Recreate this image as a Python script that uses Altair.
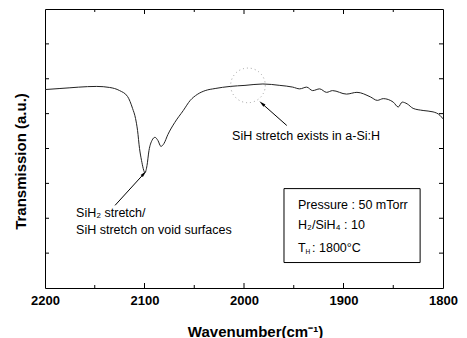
import altair as alt
import pandas as pd

# ---- data ----
wavenumber = [2200, 2185, 2148, 2135, 2125, 2117, 2112, 2109, 2107, 2105, 2103, 2099.5,
              2097.5, 2095.5, 2092.5, 2089.5, 2086.5, 2083.5, 2080.5, 2076.5, 2069.5,
              2061, 2054, 2047, 2039, 2029, 2014, 1999, 1981, 1964, 1951, 1944, 1937,
              1931, 1924, 1917, 1911, 1897, 1886.5, 1873, 1866, 1860, 1850, 1845, 1841,
              1836, 1830, 1820, 1810, 1803, 1800]
transmission = [5.69, 5.72, 5.78, 5.75, 5.66, 5.49, 5.15, 4.86, 4.52, 4.00, 3.66, 3.31,
                3.51, 3.94, 4.23, 4.32, 4.23, 4.06, 4.14, 4.40, 4.75,
                5.09, 5.38, 5.55, 5.66, 5.72, 5.78, 5.81, 5.85, 5.81, 5.76, 5.71, 5.76,
                5.66, 5.71, 5.61, 5.66, 5.56, 5.61, 5.48, 5.38, 5.43, 5.33, 5.19, 5.33,
                5.28, 5.15, 5.09, 5.05, 4.95, 4.85]

x_labels = [2200, 2100, 2000, 1900, 1800]
x_major = [2100, 2000, 1900]
x_minor = [2150, 2050, 1950, 1850]
y_ticks = [1, 2, 3, 4, 5, 6, 7]

# annotation anchors (data coordinates)
circle_w, circle_v = [1996], [5.81]
arrow_tail_w = [1957, 2129.6]
arrow_tail_v = [4.66, 2.37]
arrow_head_w = [1982, 2100.5]
arrow_head_v = [5.29, 3.28]
arrow_angle = [311, 42]

label_texts = ["SiH stretch exists in a-Si:H", "SiH\u2082 stretch/", "SiH stretch on void surfaces"]
label_w = [2012, 2168.8, 2168.8]
label_v = [4.37, 2.16, 1.65]

box_w = [1959.8]
box_w2 = [1823]
box_v = [2.85]
box_v2 = [0.73]
box_texts = ["Pressure : 50 mTorr", "H\u2082/SiH\u2084 : 10"]
box_text_w = [1945.7, 1945.7]
box_text_v = [2.39, 1.82]
t_line_w = [1945.7]
t_line_v = [1.16]

W, H = 398, 279
FONT = "Liberation Sans"
FS = 12.5

xs = alt.Scale(domain=[1800, 2200], reverse=True, nice=False, zero=False)
ys = alt.Scale(domain=[0, 8], nice=False, zero=False)

df = pd.DataFrame({"w": wavenumber, "t": transmission})

line = alt.Chart(df).mark_line(color="#222222", strokeWidth=1, interpolate="monotone").encode(
    x=alt.X("w:Q", scale=xs,
            axis=alt.Axis(values=x_labels, format="d", ticks=False, domain=False, grid=False,
                          labelFont=FONT, labelFontWeight="bold", labelFontSize=13,
                          labelColor="black", labelPadding=6, labelFlush=False,
                          title="Wavenumber(cm\u207B\u00B9)", titleFont=FONT, titleFontSize=15,
                          titleFontWeight="bold", titleColor="black", titlePadding=17,
                          titleX=210, titleAlign="center")),
    y=alt.Y("t:Q", scale=ys,
            axis=alt.Axis(labels=False, ticks=False, domain=False, grid=False,
                          title="Transmission (a.u.)", titleFont=FONT, titleFontSize=15,
                          titleFontWeight="bold", titleColor="black", titlePadding=17,
                          titleY=152)),
)

major_df = pd.DataFrame({"w": x_major})
minor_df = pd.DataFrame({"w": x_minor})
yt_df = pd.DataFrame({"v": y_ticks})

def xtick(dfx, length):
    bot = alt.Chart(dfx).mark_rule(color="black", strokeWidth=1).encode(
        x=alt.X("w:Q", scale=xs), y=alt.value(H), y2=alt.value(H - length))
    top = alt.Chart(dfx).mark_rule(color="black", strokeWidth=1).encode(
        x=alt.X("w:Q", scale=xs), y=alt.value(0), y2=alt.value(length))
    return bot + top

yl = alt.Chart(yt_df).mark_rule(color="black", strokeWidth=1).encode(
    y=alt.Y("v:Q", scale=ys), x=alt.value(0), x2=alt.value(4))
yr = alt.Chart(yt_df).mark_rule(color="black", strokeWidth=1).encode(
    y=alt.Y("v:Q", scale=ys), x=alt.value(W - 4), x2=alt.value(W))

circ = alt.Chart(pd.DataFrame({"w": circle_w, "v": circle_v})).mark_point(
    shape="circle", size=1200, color="#777777", strokeWidth=1, strokeDash=[1, 3], filled=False
).encode(x=alt.X("w:Q", scale=xs), y=alt.Y("v:Q", scale=ys))

arr_df = pd.DataFrame({"w": arrow_tail_w, "v": arrow_tail_v, "w2": arrow_head_w,
                       "v2": arrow_head_v, "a": arrow_angle})
arr_line = alt.Chart(arr_df).mark_rule(color="black", strokeWidth=1).encode(
    x=alt.X("w:Q", scale=xs), y=alt.Y("v:Q", scale=ys), x2="w2:Q", y2="v2:Q")
arr_head = alt.Chart(arr_df).mark_point(shape="M0,-1L0.45,1L-0.45,1Z", size=45, filled=True,
                                        color="black", opacity=1).encode(
    x=alt.X("w2:Q", scale=xs), y=alt.Y("v2:Q", scale=ys),
    angle=alt.Angle("a:Q", scale=None))

lab = alt.Chart(pd.DataFrame({"txt": label_texts, "w": label_w, "v": label_v})).mark_text(
    align="left", baseline="middle", font=FONT, fontSize=FS, color="black"
).encode(x=alt.X("w:Q", scale=xs), y=alt.Y("v:Q", scale=ys), text="txt:N")

box = alt.Chart(pd.DataFrame({"w": box_w, "w2": box_w2, "v": box_v, "v2": box_v2})).mark_rect(
    fill="white", stroke="black", strokeWidth=1
).encode(x=alt.X("w:Q", scale=xs), x2="w2:Q", y=alt.Y("v:Q", scale=ys), y2="v2:Q")

btxt = alt.Chart(pd.DataFrame({"txt": box_texts, "w": box_text_w, "v": box_text_v})).mark_text(
    align="left", baseline="middle", font=FONT, fontSize=FS, color="black"
).encode(x=alt.X("w:Q", scale=xs), y=alt.Y("v:Q", scale=ys), text="txt:N")

tdf = pd.DataFrame({"w": t_line_w, "v": t_line_v})
t1 = alt.Chart(tdf).mark_text(align="left", baseline="middle", font=FONT, fontSize=FS,
                              color="black", text="T").encode(
    x=alt.X("w:Q", scale=xs), y=alt.Y("v:Q", scale=ys))
t2 = alt.Chart(tdf).mark_text(align="left", baseline="middle", font=FONT, fontSize=6.5,
                              color="black", text="H", dx=7.5, dy=4.5).encode(
    x=alt.X("w:Q", scale=xs), y=alt.Y("v:Q", scale=ys))
t3 = alt.Chart(tdf).mark_text(align="left", baseline="middle", font=FONT, fontSize=FS,
                              color="black", text=": 1800\u00B0C", dx=14).encode(
    x=alt.X("w:Q", scale=xs), y=alt.Y("v:Q", scale=ys))

chart = alt.layer(
    line, xtick(major_df, 5), xtick(minor_df, 3), yl, yr, circ, arr_line, arr_head, lab,
    box, btxt, t1, t2, t3
).properties(
    width=W, height=H,
    autosize=alt.AutoSizeParams(type="none"),
    padding={"left": 45, "top": 9, "right": 24, "bottom": 50},
    background="white",
).configure_view(stroke="black", strokeWidth=1)

chart.save("out.html", embed_options={"renderer": "svg", "actions": False})
